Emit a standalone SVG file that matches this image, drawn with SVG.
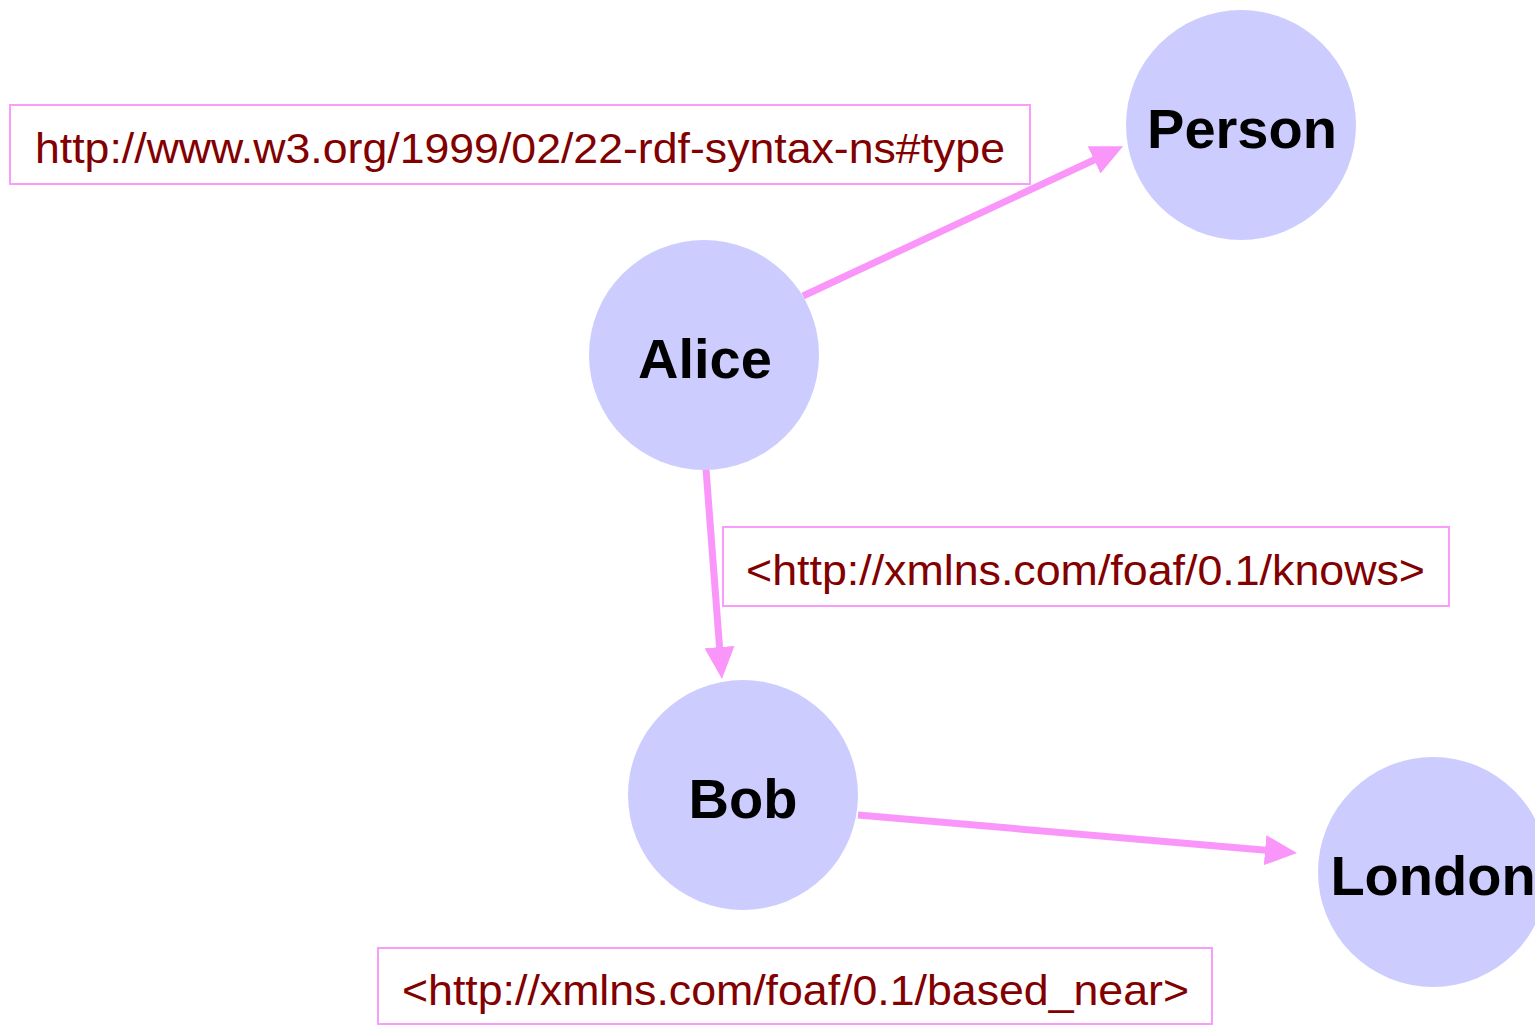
<svg xmlns="http://www.w3.org/2000/svg" width="1535" height="1026" viewBox="0 0 1535 1026">
<defs>
<style>
.node{fill:#ccccff;}
.nlabel{font-family:"Liberation Sans",Arial,sans-serif;font-weight:bold;font-size:56px;fill:#000;text-anchor:middle;}
.edge{stroke:#fa96fa;stroke-width:7;fill:none;}
.box{fill:#fff;stroke:#fa9cfa;stroke-width:2;}
.elabel{font-family:"Liberation Sans",Arial,sans-serif;font-size:43px;fill:#820000;}
</style>
<marker id="arrow" markerUnits="userSpaceOnUse" markerWidth="32" markerHeight="30" viewBox="0 0 32 30" refX="1" refY="15" orient="auto">
<path d="M0,0 L32,15 L0,30 Z" fill="#fa96fa"/>
</marker>
</defs>
<rect width="1535" height="1026" fill="#fff"/>
<g id="connectors">
<line class="edge" x1="803" y1="296" x2="1095" y2="159.5" marker-end="url(#arrow)"/>
<line class="edge" x1="706" y1="469" x2="719.6" y2="648.1" marker-end="url(#arrow)"/>
<line class="edge" x1="858" y1="815" x2="1266.1" y2="850.3" marker-end="url(#arrow)"/>
</g>
<g id="label-type">
<rect class="box" x="10" y="105" width="1020" height="79"/>
<text class="elabel" x="35" y="163" textLength="970" lengthAdjust="spacingAndGlyphs">http://www.w3.org/1999/02/22-rdf-syntax-ns#type</text>
</g>
<g id="label-knows">
<rect class="box" x="723" y="527" width="726" height="79"/>
<text class="elabel" x="746" y="585" textLength="679" lengthAdjust="spacingAndGlyphs">&lt;http://xmlns.com/foaf/0.1/knows&gt;</text>
</g>
<g id="label-based-near">
<rect class="box" x="378" y="948" width="834" height="76"/>
<text class="elabel" x="402" y="1005" textLength="787" lengthAdjust="spacingAndGlyphs">&lt;http://xmlns.com/foaf/0.1/based_near&gt;</text>
</g>
<g id="node-person">
<circle class="node" cx="1241" cy="125" r="115"/>
<text class="nlabel" x="1242" y="148">Person</text>
</g>
<g id="node-alice">
<circle class="node" cx="704" cy="355" r="115"/>
<text class="nlabel" x="705" y="378">Alice</text>
</g>
<g id="node-bob">
<circle class="node" cx="743" cy="795" r="115"/>
<text class="nlabel" x="743" y="818">Bob</text>
</g>
<g id="node-london">
<circle class="node" cx="1433" cy="872" r="115"/>
<text class="nlabel" x="1433" y="895">London</text>
</g>
</svg>
